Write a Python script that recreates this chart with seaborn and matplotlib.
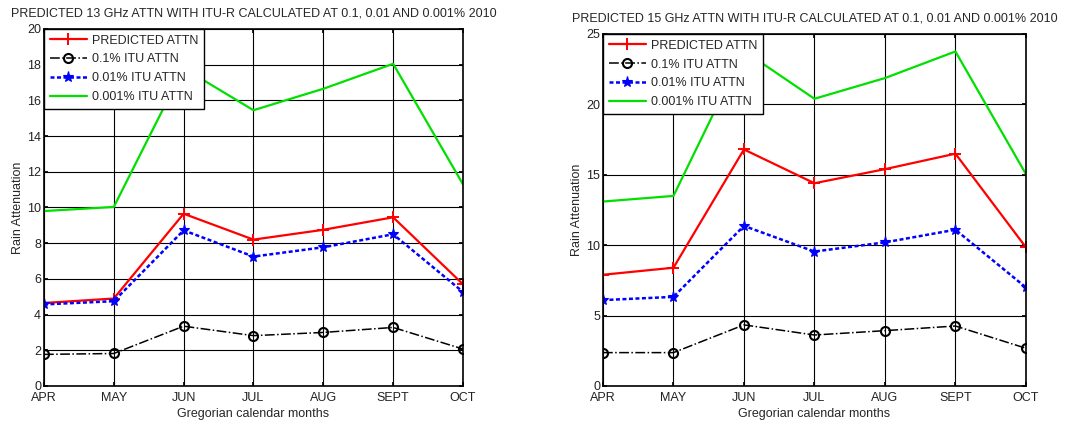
import matplotlib
matplotlib.use("Agg")
import matplotlib.pyplot as plt
import seaborn as sns
import pandas as pd

months = ["APR", "MAY", "JUN", "JUL", "AUG", "SEPT", "OCT"]

# 13 GHz
pred13 = [4.65, 4.9, 9.65, 8.2, 8.75, 9.45, 5.7]
itu01_13 = [1.77, 1.82, 3.35, 2.82, 3.0, 3.28, 2.07]
itu001_13 = [4.57, 4.75, 8.72, 7.25, 7.77, 8.5, 5.27]
itu0001_13 = [9.8, 10.03, 17.8, 15.45, 16.65, 18.05, 11.3]

# 15 GHz
pred15 = [7.9, 8.4, 16.8, 14.4, 15.4, 16.5, 9.85]
itu01_15 = [2.37, 2.37, 4.34, 3.62, 3.93, 4.26, 2.68]
itu001_15 = [6.1, 6.33, 11.37, 9.55, 10.2, 11.1, 7.0]
itu0001_15 = [13.1, 13.5, 23.8, 20.4, 21.87, 23.76, 15.05]

labels = ["PREDICTED ATTN", "0.1% ITU ATTN", "0.01% ITU ATTN", "0.001% ITU ATTN"]
titles = ["PREDICTED 13 GHz ATTN WITH ITU-R CALCULATED AT 0.1, 0.01 AND 0.001% 2010",
          "PREDICTED 15 GHz ATTN WITH ITU-R CALCULATED AT 0.1, 0.01 AND 0.001% 2010"]
ylims = [(0, 20), (0, 25)]
yticks = [list(range(0, 21, 2)), list(range(0, 26, 5))]

sns.set_theme(style="white")
plt.rcParams["font.family"] = ["Liberation Sans", "DejaVu Sans"]

styles = [
    dict(color="#ff0000", linestyle="-", marker="+", markersize=9, mew=1.4,
         mec="#ff0000", linewidth=1.6),
    dict(color="black", linestyle="-.", marker="o", markersize=6.5, mfc="none",
         mew=1.5, mec="black", linewidth=1.1),
    dict(color="#0000ff", linestyle=(0, (1.6, 1.0)), marker="*", markersize=8,
         mew=0.8, mec="#0000ff", mfc="#0000ff", linewidth=1.8),
    dict(color="#00e000", linestyle="-", marker=None, linewidth=1.6),
]

fig = plt.figure(figsize=(10.67, 4.25), dpi=100)
ax1 = fig.add_axes([0.0412, 0.0918, 0.3927, 0.84])
ax2 = fig.add_axes([0.5651, 0.0918, 0.3964, 0.8282])

datasets = [[pred13, itu01_13, itu001_13, itu0001_13],
            [pred15, itu01_15, itu001_15, itu0001_15]]

for ax, series, title, ylim, yt in zip([ax1, ax2], datasets, titles, ylims, yticks):
    x = list(range(len(months)))
    for vals, lab, st in zip(series, labels, styles):
        df = pd.DataFrame({"x": x, "y": vals})
        sns.lineplot(data=df, x="x", y="y", ax=ax, label=lab, **st)
    ax.set_xlim(0, len(months) - 1)
    ax.set_ylim(*ylim)
    ax.set_xticks(x)
    ax.set_xticklabels(months)
    ax.set_yticks(yt)
    ax.grid(True, color="black", linewidth=0.8)
    ax.tick_params(direction="in", length=3, labelsize=9, pad=2,
                   top=True, right=True, bottom=True, left=True,
                   color="black", colors="#222222")
    ax.tick_params(axis="x", pad=4)
    for s in ax.spines.values():
        s.set_color("black")
        s.set_linewidth(1.2)
    ax.set_title(title, fontsize=9, pad=9)
    ax.set_xlabel("Gregorian calendar months", fontsize=9, labelpad=3)
    ax.set_ylabel("Rain Attenuation", fontsize=9, labelpad=2)
    leg = ax.legend(loc="upper left", fontsize=9, fancybox=False, framealpha=1,
                    edgecolor="black", borderaxespad=0.0, handlelength=3.0,
                    labelspacing=0.55, borderpad=0.45, handletextpad=0.4)
    leg.get_frame().set_linewidth(1.0)

fig.savefig("out.png", dpi=100)
